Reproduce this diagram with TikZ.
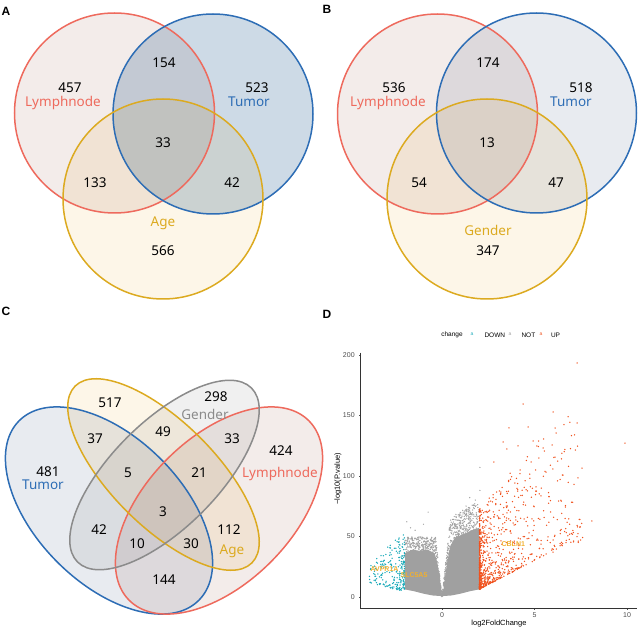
\documentclass[tikz,border=0pt]{standalone}
\usepackage{fontspec}
\setmainfont{Noto Sans}
\newfontfamily\plotfont{Liberation Sans}

\definecolor{lnred}{HTML}{EE6A5D}
\definecolor{tublue}{HTML}{2D6DB5}
\definecolor{agegold}{HTML}{DCAA20}
\definecolor{gengray}{HTML}{8B8B8B}
\definecolor{lnfill}{HTML}{F3ECEA}
\definecolor{tufillA}{HTML}{CDDAE6}
\definecolor{tufillB}{HTML}{E8EBF0}
\definecolor{agefill}{HTML}{FDF6E8}
\definecolor{genfill}{HTML}{F0F0F0}
\definecolor{downcol}{HTML}{1AAAB9}
\definecolor{upcol}{HTML}{F0521E}
\definecolor{notcol}{HTML}{A0A0A0}
\definecolor{genelbl}{HTML}{F0B030}
\definecolor{ticklbl}{HTML}{4D4D4D}

\tikzset{
  vset/.style={line width=1.5pt},
  cnt/.style={inner sep=0pt,font=\fontsize{13.5}{14}\selectfont},
  panel/.style={font=\plotfont\bfseries\fontsize{12}{12}\selectfont},
  tick/.style={font=\plotfont\fontsize{7}{7}\selectfont,text=ticklbl},
  axtitle/.style={font=\plotfont\fontsize{7.5}{8}\selectfont},
  legtxt/.style={font=\plotfont\fontsize{6.5}{7}\selectfont},
  legkey/.style={font=\plotfont\fontsize{5}{5}\selectfont},
  gene/.style={inner sep=0pt,font=\plotfont\bfseries\fontsize{7}{7}\selectfont,text=genelbl},
}

\begin{document}
\begin{tikzpicture}[x=1pt,y=-1pt]
  \useasboundingbox (0,0) rectangle (641,631);

  % panel A
  \node[panel] (pA) at (6,11) {A};
  \begin{scope}[blend group=multiply]
    \fill[agefill] (163,199) circle (100pt);
    \fill[lnfill] (114.5,113) circle (100pt);
    \fill[tufillA] (213,114) circle (100pt);
  \end{scope}
  \draw[vset,lnred] (114.5,113) circle (100pt);
  \draw[vset,tublue] (213,114) circle (100pt);
  \draw[vset,agegold] (163,199) circle (100pt);
  \node[cnt] (a457) at (70,87.5) {457};
  \node[cnt,text=lnred] (aln) at (63,102.5) {Lymphnode};
  \node[cnt] (a154) at (164,63) {154};
  \node[cnt] (a523) at (257,87.5) {523};
  \node[cnt,text=tublue] (atu) at (249,101.5) {Tumor};
  \node[cnt] (a33) at (163,143) {33};
  \node[cnt] (a133) at (95,183) {133};
  \node[cnt] (a42) at (232,183) {42};
  \node[cnt,text=agegold] (aage) at (163,223) {Age};
  \node[cnt] (a566) at (163,251) {566};

  % panel B
  \node[panel] (pB) at (327,9) {B};
  \begin{scope}[blend group=multiply]
    \fill[agefill] (487,199) circle (100pt);
    \fill[lnfill] (437.5,114) circle (100pt);
    \fill[tufillB] (536.5,113) circle (100pt);
  \end{scope}
  \draw[vset,lnred] (437.5,114) circle (100pt);
  \draw[vset,tublue] (536.5,113) circle (100pt);
  \draw[vset,agegold] (487,199) circle (100pt);
  \node[cnt] (b536) at (394,87.5) {536};
  \node[cnt,text=lnred] (bln) at (388,102.5) {Lymphnode};
  \node[cnt] (b174) at (488,63) {174};
  \node[cnt] (b518) at (581,87.5) {518};
  \node[cnt,text=tublue] (btu) at (571,101.5) {Tumor};
  \node[cnt] (b13) at (487,143) {13};
  \node[cnt] (b54) at (419,183) {54};
  \node[cnt] (b47) at (556,183) {47};
  \node[cnt,text=agegold] (bgen) at (488,230) {Gender};
  \node[cnt] (b347) at (488,251) {347};

  % panel C
  \node[panel] (pC) at (6,311) {C};
  \begin{scope}[blend group=multiply]
    \fill[tufillB,shift={(109,510.5)},rotate=-45] (0,0) ellipse [x radius=127pt, y radius=73pt];
    \fill[lnfill,shift={(219,510.5)},rotate=45] (0,0) ellipse [x radius=127pt, y radius=73pt];
    \fill[agefill,shift={(163.5,474.5)},rotate=-45] (0,0) ellipse [x radius=125pt, y radius=52pt];
    \fill[genfill,shift={(164.5,475)},rotate=45] (0,0) ellipse [x radius=123pt, y radius=53pt];
  \end{scope}
  \draw[vset,tublue,shift={(109,510.5)},rotate=-45] (0,0) ellipse [x radius=127pt, y radius=73pt];
  \draw[vset,lnred,shift={(219,510.5)},rotate=45] (0,0) ellipse [x radius=127pt, y radius=73pt];
  \draw[vset,agegold,shift={(163.5,474.5)},rotate=-45] (0,0) ellipse [x radius=125pt, y radius=52pt];
  \draw[vset,gengray,shift={(164.5,475)},rotate=45] (0,0) ellipse [x radius=123pt, y radius=53pt];
  \node[cnt] (c517) at (110,403) {517};
  \node[cnt] (c298) at (216,397) {298};
  \node[cnt,text=gengray] (cgen) at (205,414.5) {Gender};
  \node[cnt] (c37) at (95,439) {37};
  \node[cnt] (c49) at (163,432) {49};
  \node[cnt] (c33) at (232,439) {33};
  \node[cnt] (c424) at (281,451) {424};
  \node[cnt] (c481) at (48,471.5) {481};
  \node[cnt,text=tublue] (ctu) at (43,485) {Tumor};
  \node[cnt] (c5) at (128,473) {5};
  \node[cnt] (c21) at (199,473) {21};
  \node[cnt,text=lnred] (cln) at (280,474) {Lymphnode};
  \node[cnt] (c3) at (163,512) {3};
  \node[cnt] (c42) at (99,530) {42};
  \node[cnt] (c112) at (229,530) {112};
  \node[cnt] (c10) at (137,544) {10};
  \node[cnt] (c30) at (191,544) {30};
  \node[cnt,text=agegold] (cage) at (232,551) {Age};
  \node[cnt] (c144) at (164,580) {144};

  % panel D
  \node[panel] (pD) at (327,314) {D};
  \node[legtxt] (legchg) at (452,335) {change};
  \node[legkey,text=downcol] (keydown) at (472,334.5) {a};
  \node[legtxt,anchor=west] (legdown) at (481,335) {DOWN};
  \node[legkey,text=notcol] (keynot) at (510,334.5) {a};
  \node[legtxt,anchor=west] (legnot) at (518,335) {NOT};
  \node[legkey,text=upcol] (keyup) at (541,334.5) {a};
  \node[legtxt,anchor=west] (legup) at (547.5,335) {UP};

  \begin{scope}[shift={(442,596.7)},x=18.5pt,y=1.208pt]
    \pgfmathsetseed{2718}
    % not significant
    \fill[notcol] (-0.02,0.5) -- (-0.1,13) -- (-0.25,28) -- (-0.4,36) -- (-0.8,39) -- (-1.2,38)
      -- (-1.6,39) -- (-2,36) -- (-2,6) -- (-1.5,4.5) -- (-1,2.5) -- (-0.5,1) -- cycle;
    \fill[notcol] (0.02,0.5) -- (0.15,13) -- (0.3,30) -- (0.45,42) -- (0.7,49) -- (1.2,52)
      -- (1.6,55) -- (2,57) -- (2,6) -- (1.5,4.5) -- (1,2.5) -- (0.5,1) -- cycle;
    \foreach \i in {1,...,1400}{
      \pgfmathsetmacro\xx{4*rnd-2}
      \pgfmathsetmacro\cp{\xx<0 ? min(-130*\xx,45) : min(130*\xx,56+8*\xx)}
      \pgfmathsetmacro\yy{\cp*(0.45+0.65*rnd)}
      \fill[notcol] (\xx,\yy) circle (0.7pt);
    }
    \foreach \xx/\yy in {2.05/107,1.5/82,-0.75/70,-1.9/62,-1.45/55,-1.0/60,2.05/88,1.8/80,1.3/75,-1.7/57}
      \fill[notcol] (\xx,\yy) circle (0.7pt);
    % down
    \foreach \i in {1,...,230}{
      \pgfmathsetmacro\ra{rnd}
      \pgfmathsetmacro\xx{-2.03-1.9*\ra*\ra}
      \pgfmathsetmacro\ylo{4+4*(-\xx-2)}
      \pgfmathsetmacro\yhi{55-15*(-\xx-2)}
      \pgfmathsetmacro\rb{rnd}
      \pgfmathsetmacro\yy{\ylo+(\yhi-\ylo)*\rb*sqrt(\rb)}
      \fill[downcol] (\xx,\yy) circle (0.75pt);
    }
    % up
    \foreach \i in {1,...,900}{
      \pgfmathsetmacro\ra{rnd}
      \pgfmathsetmacro\xx{2.03+5.5*\ra*\ra*\ra*sqrt(\ra)}
      \pgfmathsetmacro\ylo{min(6+8*(\xx-2),45)}
      \pgfmathsetmacro\yhi{72+18*(\xx-2)}
      \pgfmathsetmacro\rb{rnd}
      \pgfmathsetmacro\yy{\ylo+(\yhi-\ylo)*\rb*\rb}
      \fill[upcol] (\xx,\yy) circle (0.75pt);
    }
    \foreach \xx/\yy in {7.3/193.5,4.38/159.5,6.0/152.9,7.3/143.8,3.62/139.7,4.65/140.5,9.89/127.2,
      3.3/128.1,4.92/128.9,4.11/124.8,3.51/122.3,5.46/123.1,5.95/125.6,6.11/115.6,5.24/114.8,
      2.81/111.5,7.57/106.5,7.35/98.3,6.54/100.7,8.1/62.7,7.55/60.7,7.6/49,7.3/49.7,6.9/60,6.0/37,6.47/69}
      \fill[upcol] (\xx,\yy) circle (0.75pt);
    % axes ticks
    \foreach \v in {0,50,...,200}{
      \draw[line width=0.4pt,ticklbl] (-4.395,\v) -- ++(-2pt,0);
      \node[tick,anchor=east] (yt\v) at ([xshift=-2.5pt]-4.395,\v) {\v};
    }
    \foreach \v in {0,5,10}{
      \draw[line width=0.4pt,ticklbl] (\v,-9.6) -- ++(0,-2pt);
      \node[tick] (xt\v) at ([yshift=-6.5pt]\v,-9.6) {\v};
    }
  \end{scope}
  \coordinate (ytop) at (360.7,352.7);
  \coordinate (org) at (360.7,608.3);
  \coordinate (xend) at (636.7,608.3);
  \draw[line width=0.5pt,black!80] (ytop) -- (org) -- (xend);
  \node[axtitle] (xtitle) at (499,624) {log2FoldChange};
  \node[axtitle,rotate=90] (ytitle) at (338,479) {−log10(P.value)};
  \node[gene] (gavpr) at (384.5,568.7) {AVPR1A};
  \node[gene] (gslc) at (414,575.3) {SLC5A5};
  \node[gene] (gcbln) at (513.3,544.3) {CBLN1};
\end{tikzpicture}
\end{document}
